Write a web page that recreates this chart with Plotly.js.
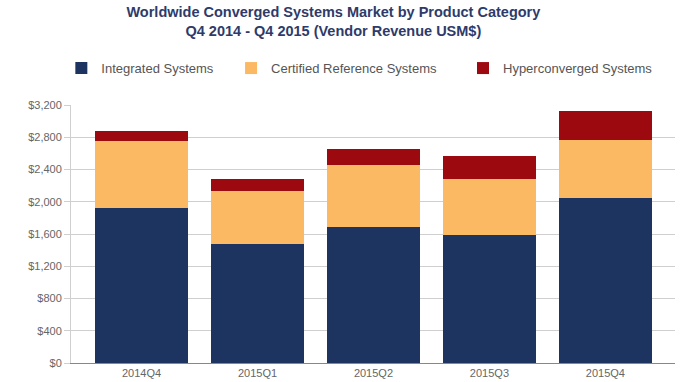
<!DOCTYPE html>
<html>
<head>
<meta charset="utf-8">
<script src="https://cdn.plot.ly/plotly-3.0.1.min.js"></script>
<style>html,body{margin:0;padding:0;background:#fff;}#chart{width:686px;height:382px;}</style>
</head>
<body>
<div id="chart"></div>
<script>
const categories = ["2014Q4", "2015Q1", "2015Q2", "2015Q3", "2015Q4"];
const integrated = [1920, 1480, 1690, 1590, 2050];
const certified = [830, 650, 765, 690, 715];
const hyperconverged = [130, 150, 200, 290, 365];
const yTickVals = [0, 400, 800, 1200, 1600, 2000, 2400, 2800, 3200];
const yTickText = ["$0", "$400", "$800", "$1,200", "$1,600", "$2,000", "$2,400", "$2,800", "$3,200"];

const traces = [
  {type: "bar", name: "Integrated Systems", x: categories, y: integrated,
   marker: {color: "#1d3461"}, legend: "legend"},
  {type: "bar", name: "Certified Reference Systems", x: categories, y: certified,
   marker: {color: "#fbb963"}, legend: "legend2"},
  {type: "bar", name: "Hyperconverged Systems", x: categories, y: hyperconverged,
   marker: {color: "#9c0a10"}, legend: "legend3"}
];

const legendBase = {orientation: "h", xref: "paper", yref: "paper", yanchor: "middle",
  font: {family: "Liberation Sans, Arial, sans-serif", size: 13, color: "#555"},
  bgcolor: "rgba(0,0,0,0)"};

const layout = {
  width: 686, height: 382,
  margin: {l: 71, r: 11, t: 105, b: 19},
  paper_bgcolor: "#fff", plot_bgcolor: "#fff",
  barmode: "stack", bargap: 0.2,
  hovermode: false,
  title: {
    text: "<b>Worldwide Converged Systems Market by Product Category<br>Q4 2014 - Q4 2015 (Vendor Revenue USM$)</b>",
    font: {family: "Liberation Sans, Arial, sans-serif", size: 14.5, color: "#2e3b6a"},
    x: 0.486, xref: "container", xanchor: "center",
    y: 0.955, yref: "container", yanchor: "top"
  },
  xaxis: {
    range: [-0.608, 4.6], showgrid: false, zeroline: false,
    showline: true, linecolor: "#888", linewidth: 1,
    ticks: "", tickfont: {family: "Liberation Sans, Arial, sans-serif", size: 11, color: "#666"}
  },
  yaxis: {
    range: [0, 3200], tickvals: yTickVals, ticktext: yTickText,
    showgrid: true, gridcolor: "#cfcfcf", gridwidth: 1, zeroline: false,
    showline: true, linecolor: "#cfcfcf", linewidth: 1,
    ticks: "outside", ticklen: 6, tickcolor: "#cfcfcf",
    tickfont: {family: "Liberation Sans, Arial, sans-serif", size: 11, color: "#666"}
  },
  legend: Object.assign({}, legendBase, {x: -0.016, y: 1.143}),
  legend2: Object.assign({}, legendBase, {x: 0.265, y: 1.143}),
  legend3: Object.assign({}, legendBase, {x: 0.649, y: 1.143}),
  showlegend: true
};

Plotly.newPlot("chart", traces, layout, {displayModeBar: false, staticPlot: true});
</script>
</body>
</html>
